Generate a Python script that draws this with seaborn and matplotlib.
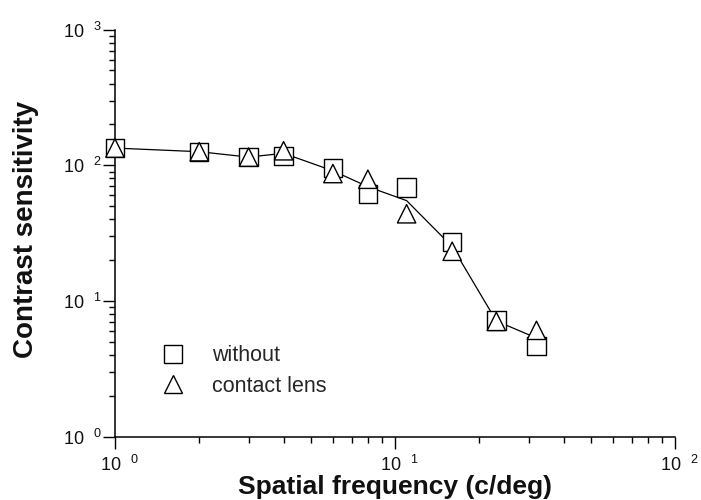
import numpy as np
import pandas as pd
import matplotlib
matplotlib.use("Agg")
import matplotlib.pyplot as plt
import seaborn as sns
from matplotlib.ticker import FixedLocator, LogLocator, FuncFormatter, NullFormatter
from matplotlib.transforms import ScaledTranslation
from matplotlib.lines import Line2D

# ---- data ----
freq = [1, 2, 3, 4, 6, 8, 11, 16, 23, 32]
without = [134, 126, 115, 117.5, 95.5, 61.4, 68.7, 27.3, 7.2, 4.7]
contact = [134, 126, 115, 128, 87, 79, 44, 23.3, 7.1, 6.1]
series_labels = ["without", "contact lens"]
x_label = "Spatial frequency (c/deg)"
y_label = "Contrast sensitivity"
x_ticks = [1, 10, 100]
y_ticks = [1, 10, 100, 1000]

sns.set_theme(style="ticks")
plt.rcParams['font.family'] = ['Liberation Sans', 'DejaVu Sans']
plt.rcParams['mathtext.fontset'] = 'custom'
plt.rcParams['mathtext.rm'] = 'Liberation Sans'
plt.rcParams['mathtext.it'] = 'Liberation Sans'
plt.rcParams['mathtext.bf'] = 'Liberation Sans:bold'

fig = plt.figure(figsize=(7.01, 5.0), dpi=100)
ax = fig.add_axes([0.164, 0.126, 0.799, 0.815])

df = pd.DataFrame({
    "freq": freq + freq,
    "cs": without + contact,
    "cond": [series_labels[0]] * len(freq) + [series_labels[1]] * len(freq),
})
mean_df = pd.DataFrame({
    "freq": freq,
    "cs": np.sqrt(np.array(without) * np.array(contact)),
})

sns.lineplot(data=mean_df, x="freq", y="cs", color="black", lw=0.9, ax=ax, zorder=2)
sns.scatterplot(data=df, x="freq", y="cs", style="cond",
                markers={series_labels[0]: "s", series_labels[1]: "^"},
                s=175, facecolor="white", edgecolor="black", linewidth=1.0,
                ax=ax, zorder=3, clip_on=False, legend=False)

ax.set_xscale("log")
ax.set_yscale("log")
ax.set_xlim(x_ticks[0], x_ticks[-1])
ax.set_ylim(y_ticks[0], y_ticks[-1])

for axis, ticks in ((ax.xaxis, x_ticks), (ax.yaxis, y_ticks)):
    axis.set_major_locator(FixedLocator(ticks))
    axis.set_minor_locator(LogLocator(base=10, subs=range(2, 10), numticks=20))
    axis.set_minor_formatter(NullFormatter())
    axis.set_major_formatter(FuncFormatter(
        lambda v, _: r"$\mathregular{10^{\ \ \ %d}}$" % int(round(np.log10(v)))))

ax.tick_params(which="major", length=8.5, width=1.0, direction="out", color="black",
               labelsize=13, labelcolor="#111111")
ax.tick_params(axis="x", which="major", pad=4.5)
ax.tick_params(axis="y", which="major", pad=1)
ax.tick_params(which="minor", length=4.5, width=1.0, direction="out", color="black")

for lab in ax.get_xticklabels():
    lab.set_horizontalalignment("left")
    lab.set_transform(lab.get_transform() + ScaledTranslation(-0.15, 0, fig.dpi_scale_trans))

for side in ("top", "right"):
    ax.spines[side].set_visible(False)
for side in ("left", "bottom"):
    ax.spines[side].set_linewidth(1.1)
    ax.spines[side].set_color("black")

ax.set_xlabel(x_label, fontsize=19, fontweight="bold", color="#111111")
ax.set_ylabel(y_label, fontsize=20, fontweight="bold", color="#111111")
ax.xaxis.set_label_coords(0.5, -0.093)
ax.yaxis.set_label_coords(-0.136, 0.51)

handles = [
    Line2D([], [], marker="s", linestyle="none", markersize=13, markerfacecolor="white",
           markeredgecolor="black", markeredgewidth=1.0),
    Line2D([], [], marker="^", linestyle="none", markersize=13, markerfacecolor="white",
           markeredgecolor="black", markeredgewidth=1.0),
]
ax.legend(handles, series_labels, frameon=False, loc="upper left",
          bbox_to_anchor=(0.0845, 0.225), fontsize=15.5, handlelength=1.0,
          handletextpad=1.3, labelspacing=0.45, borderpad=0, borderaxespad=0)

fig.savefig("out.png", dpi=100)
